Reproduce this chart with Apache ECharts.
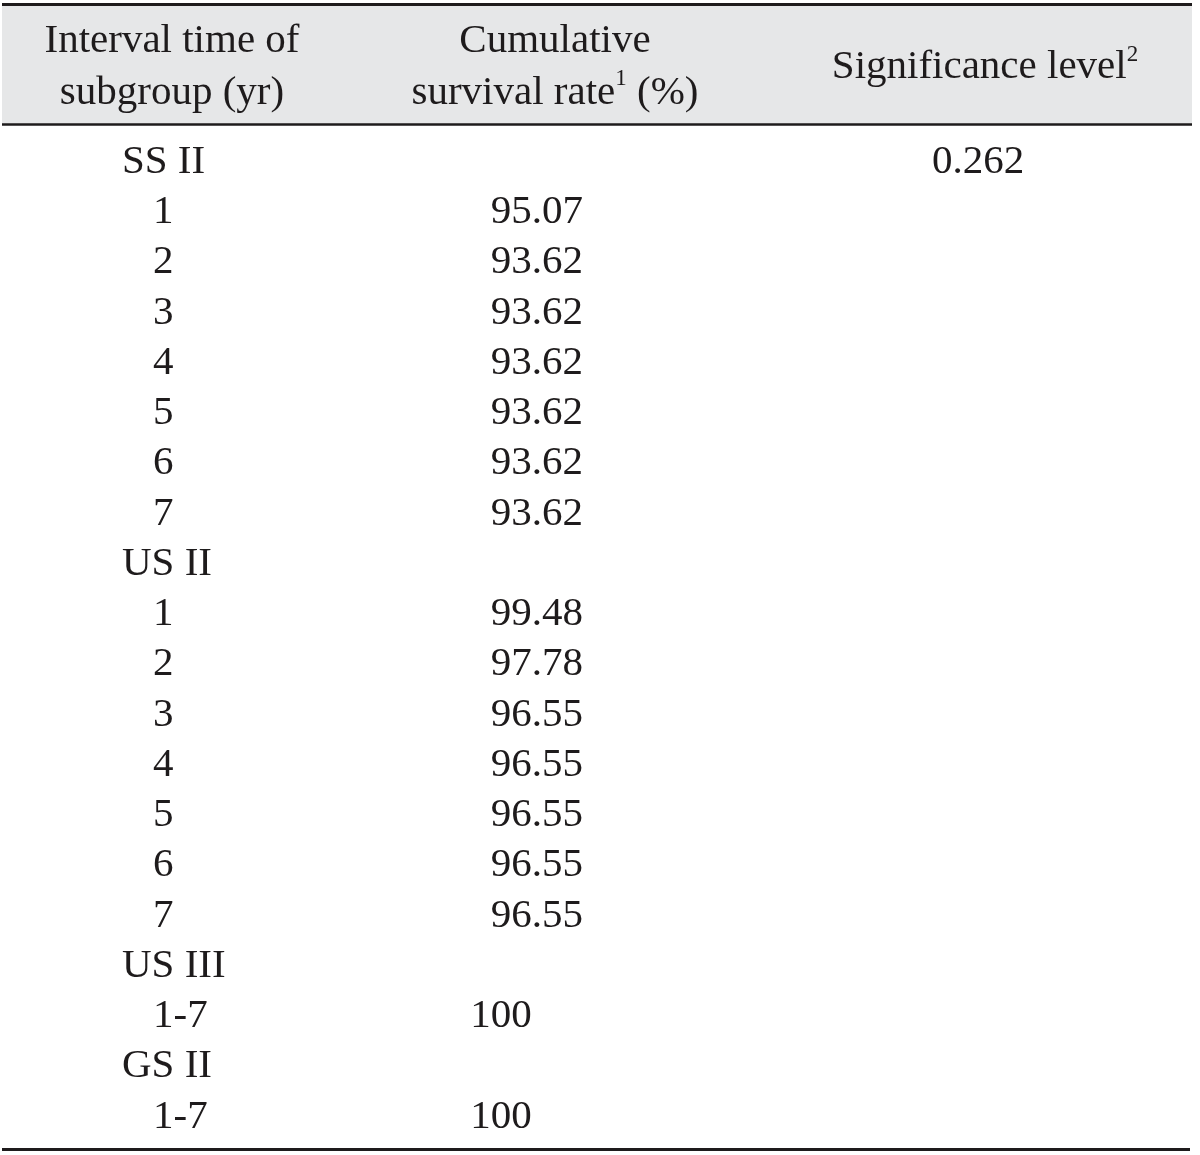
<!DOCTYPE html>
<html>
<head>
<meta charset="utf-8">
<script src="https://cdn.jsdelivr.net/npm/echarts@6/dist/echarts.min.js"></script>
<style>
  html, body { margin: 0; padding: 0; background: #fff; }
  #main { width: 1200px; height: 1155px; }
</style>
</head>
<body>
<div id="main"></div>
<script>
// table content
const headerLabels = ['Interval time of subgroup (yr)', 'Cumulative survival rate (%)', 'Significance level'];
const groupNames = ['SS II', 'US II', 'US III', 'GS II'];
const intervalLabels = [
  ['1', '2', '3', '4', '5', '6', '7'],
  ['1', '2', '3', '4', '5', '6', '7'],
  ['1-7'],
  ['1-7']
];
const ssIIRates = [95.07, 93.62, 93.62, 93.62, 93.62, 93.62, 93.62];
const usIIRates = [99.48, 97.78, 96.55, 96.55, 96.55, 96.55, 96.55];
const usIIIRates = [100];
const gsIIRates = [100];
const significanceLevels = ['0.262', '', '', ''];

const groupRates = [ssIIRates, usIIRates, usIIIRates, gsIIRates];

// build rows: one row per group title, then its intervals
let rowIds = [];
let groupData = [];
let intervalData = [];
let rateData = [];
let sigData = [];
groupNames.forEach(function (g, gi) {
  let r = rowIds.length;
  rowIds.push(String(r));
  groupData.push([0, r, g]);
  if (significanceLevels[gi]) sigData.push([2, r, significanceLevels[gi]]);
  intervalLabels[gi].forEach(function (lab, i) {
    let rr = rowIds.length;
    rowIds.push(String(rr));
    intervalData.push([0, rr, lab]);
    rateData.push([1, rr, groupRates[gi][i]]);
  });
});

const FONT = '"Liberation Serif", "Times New Roman", serif';
const INK = '#1e1b1c';

// decimal aligned: whole numbers get an invisible ".00"
function fmtRate(v) {
  if (Number.isInteger(v)) return '{v|' + v + '}{g|.00}';
  return '{v|' + v.toFixed(2) + '}';
}

function cellSeries(data, offsetX, align, formatter) {
  return {
    type: 'scatter',
    data: data,
    symbolSize: 0,
    silent: true,
    itemStyle: { opacity: 1 },
    label: {
      show: true,
      position: 'inside',
      align: align,
      verticalAlign: 'middle',
      offset: [offsetX, 2],
      opacity: 1,
      fontFamily: FONT,
      fontSize: 41,
      color: INK,
      formatter: formatter,
      rich: {
        v: { fontFamily: FONT, fontSize: 41, color: INK },
        g: { fontFamily: FONT, fontSize: 41, color: 'transparent' }
      }
    }
  };
}

let myChart = echarts.init(document.getElementById('main'));
myChart.setOption({
  animation: false,
  backgroundColor: '#ffffff',
  grid: { left: 0, width: 1200, top: 135, bottom: 15 },
  xAxis: {
    type: 'category',
    position: 'top',
    data: headerLabels,
    z: 10,
    axisLine: { show: false },
    axisTick: { show: false },
    splitLine: { show: false },
    axisLabel: {
      interval: 0,
      margin: 16,
      verticalAlign: 'bottom',
      color: INK,
      formatter: function (val, idx) {
        if (idx === 0) return '{a|Interval time of}\n{a|subgroup (yr)}';
        if (idx === 1) return '{b1|Cumulative}\n{b|survival rate}{bs|1}{b2| (%)}';
        return '{c|Significance level}{cs|2}';
      },
      rich: {
        a: { fontFamily: FONT, fontSize: 41, color: INK, lineHeight: 52, padding: [0, 56, 0, 0] },
        b1: { fontFamily: FONT, fontSize: 41, color: INK, lineHeight: 52, padding: [0, 90, 0, 0] },
        b: { fontFamily: FONT, fontSize: 41, color: INK, lineHeight: 52 },
        b2: { fontFamily: FONT, fontSize: 41, color: INK, lineHeight: 52, padding: [0, 90, 0, 0] },
        bs: { fontFamily: FONT, fontSize: 23, color: INK, verticalAlign: 'top', lineHeight: 23 },
        c: { fontFamily: FONT, fontSize: 41, color: INK, lineHeight: 104 },
        cs: { fontFamily: FONT, fontSize: 23, color: INK, verticalAlign: 'middle', lineHeight: 23, padding: [0, 30, 24, 0] }
      }
    }
  },
  yAxis: {
    type: 'category',
    inverse: true,
    data: rowIds,
    show: false
  },
  graphic: [
    { type: 'rect', z: -1, shape: { x: 2, y: 5, width: 1190, height: 119 }, style: { fill: '#e6e7e8' } },
    { type: 'line', shape: { x1: 2, y1: 4.5, x2: 1192, y2: 4.5 }, style: { stroke: INK, lineWidth: 3 } },
    { type: 'line', shape: { x1: 2, y1: 124.5, x2: 1192, y2: 124.5 }, style: { stroke: INK, lineWidth: 2.5 } },
    { type: 'line', shape: { x1: 2, y1: 1149.5, x2: 1190, y2: 1149.5 }, style: { stroke: INK, lineWidth: 3 } }
  ],
  series: [
    cellSeries(groupData, -78, 'left', function (p) { return p.data[2]; }),
    cellSeries(intervalData, -47, 'left', function (p) { return p.data[2]; }),
    cellSeries(rateData, -17, 'right', function (p) { return fmtRate(p.data[2]); }),
    cellSeries(sigData, -22, 'center', function (p) { return p.data[2]; })
  ]
});
</script>
</body>
</html>
